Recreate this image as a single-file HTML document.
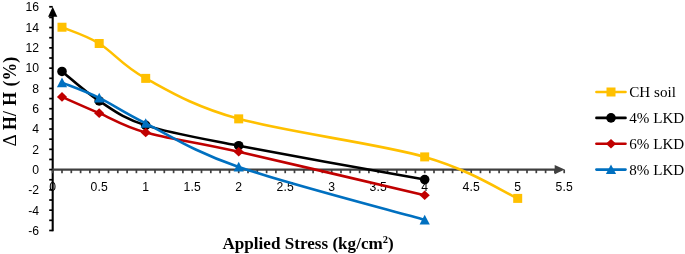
<!DOCTYPE html>
<html><head><meta charset="utf-8"><title>chart</title>
<style>
html,body{margin:0;padding:0;background:#fff;}
body{width:685px;height:254px;position:relative;overflow:hidden;}
.t{font-family:"Liberation Sans","DejaVu Sans",sans-serif;font-size:12.2px;letter-spacing:0.1px;fill:#000;}
.b{font-family:"Liberation Serif",serif;font-size:17.1px;font-weight:bold;fill:#000;}
.l{font-family:"Liberation Serif",serif;font-size:15.1px;fill:#000;}
</style></head><body>
<svg width="685" height="254" viewBox="0 0 685 254" style="position:absolute;left:0;top:0">
<rect width="685" height="254" fill="#fff"/>
<line x1="52.7" y1="15.280000000000001" x2="52.7" y2="231.27" stroke="#000" stroke-width="2.1"/>
<polygon points="52.7,6.68 57.30,16.68 48.10,16.68" fill="#000"/>
<line x1="51.800000000000004" y1="169.6" x2="556.2" y2="169.6" stroke="#404040" stroke-width="2.1"/>
<polygon points="564.7,169.6 554.7,164.9 554.7,174.29999999999998" fill="#404040"/>
<line x1="49.2" y1="230.47" x2="52.7" y2="230.47" stroke="#000" stroke-width="1.7"/>
<line x1="49.2" y1="220.32" x2="52.7" y2="220.32" stroke="#000" stroke-width="1.7"/>
<line x1="49.2" y1="210.18" x2="52.7" y2="210.18" stroke="#000" stroke-width="1.7"/>
<line x1="49.2" y1="200.03" x2="52.7" y2="200.03" stroke="#000" stroke-width="1.7"/>
<line x1="49.2" y1="189.89" x2="52.7" y2="189.89" stroke="#000" stroke-width="1.7"/>
<line x1="49.2" y1="179.75" x2="52.7" y2="179.75" stroke="#000" stroke-width="1.7"/>
<line x1="49.2" y1="169.60" x2="52.7" y2="169.60" stroke="#000" stroke-width="1.7"/>
<line x1="49.2" y1="159.45" x2="52.7" y2="159.45" stroke="#000" stroke-width="1.7"/>
<line x1="49.2" y1="149.31" x2="52.7" y2="149.31" stroke="#000" stroke-width="1.7"/>
<line x1="49.2" y1="139.16" x2="52.7" y2="139.16" stroke="#000" stroke-width="1.7"/>
<line x1="49.2" y1="129.02" x2="52.7" y2="129.02" stroke="#000" stroke-width="1.7"/>
<line x1="49.2" y1="118.88" x2="52.7" y2="118.88" stroke="#000" stroke-width="1.7"/>
<line x1="49.2" y1="108.73" x2="52.7" y2="108.73" stroke="#000" stroke-width="1.7"/>
<line x1="49.2" y1="98.58" x2="52.7" y2="98.58" stroke="#000" stroke-width="1.7"/>
<line x1="49.2" y1="88.44" x2="52.7" y2="88.44" stroke="#000" stroke-width="1.7"/>
<line x1="49.2" y1="78.30" x2="52.7" y2="78.30" stroke="#000" stroke-width="1.7"/>
<line x1="49.2" y1="68.15" x2="52.7" y2="68.15" stroke="#000" stroke-width="1.7"/>
<line x1="49.2" y1="58.00" x2="52.7" y2="58.00" stroke="#000" stroke-width="1.7"/>
<line x1="49.2" y1="47.86" x2="52.7" y2="47.86" stroke="#000" stroke-width="1.7"/>
<line x1="49.2" y1="37.72" x2="52.7" y2="37.72" stroke="#000" stroke-width="1.7"/>
<line x1="49.2" y1="27.57" x2="52.7" y2="27.57" stroke="#000" stroke-width="1.7"/>
<line x1="49.2" y1="17.43" x2="52.7" y2="17.43" stroke="#000" stroke-width="1.7"/>
<line x1="49.2" y1="6.78" x2="52.7" y2="6.78" stroke="#000" stroke-width="1.7"/>
<line x1="52.70" y1="169.6" x2="52.70" y2="173.2" stroke="#404040" stroke-width="1.7"/>
<line x1="62.00" y1="169.6" x2="62.00" y2="173.2" stroke="#404040" stroke-width="1.7"/>
<line x1="71.30" y1="169.6" x2="71.30" y2="173.2" stroke="#404040" stroke-width="1.7"/>
<line x1="80.60" y1="169.6" x2="80.60" y2="173.2" stroke="#404040" stroke-width="1.7"/>
<line x1="89.90" y1="169.6" x2="89.90" y2="173.2" stroke="#404040" stroke-width="1.7"/>
<line x1="99.20" y1="169.6" x2="99.20" y2="173.2" stroke="#404040" stroke-width="1.7"/>
<line x1="108.50" y1="169.6" x2="108.50" y2="173.2" stroke="#404040" stroke-width="1.7"/>
<line x1="117.80" y1="169.6" x2="117.80" y2="173.2" stroke="#404040" stroke-width="1.7"/>
<line x1="127.10" y1="169.6" x2="127.10" y2="173.2" stroke="#404040" stroke-width="1.7"/>
<line x1="136.40" y1="169.6" x2="136.40" y2="173.2" stroke="#404040" stroke-width="1.7"/>
<line x1="145.70" y1="169.6" x2="145.70" y2="173.2" stroke="#404040" stroke-width="1.7"/>
<line x1="155.00" y1="169.6" x2="155.00" y2="173.2" stroke="#404040" stroke-width="1.7"/>
<line x1="164.30" y1="169.6" x2="164.30" y2="173.2" stroke="#404040" stroke-width="1.7"/>
<line x1="173.60" y1="169.6" x2="173.60" y2="173.2" stroke="#404040" stroke-width="1.7"/>
<line x1="182.90" y1="169.6" x2="182.90" y2="173.2" stroke="#404040" stroke-width="1.7"/>
<line x1="192.20" y1="169.6" x2="192.20" y2="173.2" stroke="#404040" stroke-width="1.7"/>
<line x1="201.50" y1="169.6" x2="201.50" y2="173.2" stroke="#404040" stroke-width="1.7"/>
<line x1="210.80" y1="169.6" x2="210.80" y2="173.2" stroke="#404040" stroke-width="1.7"/>
<line x1="220.10" y1="169.6" x2="220.10" y2="173.2" stroke="#404040" stroke-width="1.7"/>
<line x1="229.40" y1="169.6" x2="229.40" y2="173.2" stroke="#404040" stroke-width="1.7"/>
<line x1="238.70" y1="169.6" x2="238.70" y2="173.2" stroke="#404040" stroke-width="1.7"/>
<line x1="248.00" y1="169.6" x2="248.00" y2="173.2" stroke="#404040" stroke-width="1.7"/>
<line x1="257.30" y1="169.6" x2="257.30" y2="173.2" stroke="#404040" stroke-width="1.7"/>
<line x1="266.60" y1="169.6" x2="266.60" y2="173.2" stroke="#404040" stroke-width="1.7"/>
<line x1="275.90" y1="169.6" x2="275.90" y2="173.2" stroke="#404040" stroke-width="1.7"/>
<line x1="285.20" y1="169.6" x2="285.20" y2="173.2" stroke="#404040" stroke-width="1.7"/>
<line x1="294.50" y1="169.6" x2="294.50" y2="173.2" stroke="#404040" stroke-width="1.7"/>
<line x1="303.80" y1="169.6" x2="303.80" y2="173.2" stroke="#404040" stroke-width="1.7"/>
<line x1="313.10" y1="169.6" x2="313.10" y2="173.2" stroke="#404040" stroke-width="1.7"/>
<line x1="322.40" y1="169.6" x2="322.40" y2="173.2" stroke="#404040" stroke-width="1.7"/>
<line x1="331.70" y1="169.6" x2="331.70" y2="173.2" stroke="#404040" stroke-width="1.7"/>
<line x1="341.00" y1="169.6" x2="341.00" y2="173.2" stroke="#404040" stroke-width="1.7"/>
<line x1="350.30" y1="169.6" x2="350.30" y2="173.2" stroke="#404040" stroke-width="1.7"/>
<line x1="359.60" y1="169.6" x2="359.60" y2="173.2" stroke="#404040" stroke-width="1.7"/>
<line x1="368.90" y1="169.6" x2="368.90" y2="173.2" stroke="#404040" stroke-width="1.7"/>
<line x1="378.20" y1="169.6" x2="378.20" y2="173.2" stroke="#404040" stroke-width="1.7"/>
<line x1="387.50" y1="169.6" x2="387.50" y2="173.2" stroke="#404040" stroke-width="1.7"/>
<line x1="396.80" y1="169.6" x2="396.80" y2="173.2" stroke="#404040" stroke-width="1.7"/>
<line x1="406.10" y1="169.6" x2="406.10" y2="173.2" stroke="#404040" stroke-width="1.7"/>
<line x1="415.40" y1="169.6" x2="415.40" y2="173.2" stroke="#404040" stroke-width="1.7"/>
<line x1="424.70" y1="169.6" x2="424.70" y2="173.2" stroke="#404040" stroke-width="1.7"/>
<line x1="434.00" y1="169.6" x2="434.00" y2="173.2" stroke="#404040" stroke-width="1.7"/>
<line x1="443.30" y1="169.6" x2="443.30" y2="173.2" stroke="#404040" stroke-width="1.7"/>
<line x1="452.60" y1="169.6" x2="452.60" y2="173.2" stroke="#404040" stroke-width="1.7"/>
<line x1="461.90" y1="169.6" x2="461.90" y2="173.2" stroke="#404040" stroke-width="1.7"/>
<line x1="471.20" y1="169.6" x2="471.20" y2="173.2" stroke="#404040" stroke-width="1.7"/>
<line x1="480.50" y1="169.6" x2="480.50" y2="173.2" stroke="#404040" stroke-width="1.7"/>
<line x1="489.80" y1="169.6" x2="489.80" y2="173.2" stroke="#404040" stroke-width="1.7"/>
<line x1="499.10" y1="169.6" x2="499.10" y2="173.2" stroke="#404040" stroke-width="1.7"/>
<line x1="508.40" y1="169.6" x2="508.40" y2="173.2" stroke="#404040" stroke-width="1.7"/>
<line x1="517.70" y1="169.6" x2="517.70" y2="173.2" stroke="#404040" stroke-width="1.7"/>
<line x1="527.00" y1="169.6" x2="527.00" y2="173.2" stroke="#404040" stroke-width="1.7"/>
<line x1="536.30" y1="169.6" x2="536.30" y2="173.2" stroke="#404040" stroke-width="1.7"/>
<line x1="545.60" y1="169.6" x2="545.60" y2="173.2" stroke="#404040" stroke-width="1.7"/>
<line x1="554.90" y1="169.6" x2="554.90" y2="173.2" stroke="#404040" stroke-width="1.7"/>
<line x1="564.20" y1="169.6" x2="564.20" y2="173.2" stroke="#404040" stroke-width="1.7"/>
<text x="39.2" y="235.02" text-anchor="end" class="t">-6</text>
<text x="39.2" y="214.68" text-anchor="end" class="t">-4</text>
<text x="39.2" y="194.34" text-anchor="end" class="t">-2</text>
<text x="39.2" y="174.00" text-anchor="end" class="t">0</text>
<text x="39.2" y="153.66" text-anchor="end" class="t">2</text>
<text x="39.2" y="133.32" text-anchor="end" class="t">4</text>
<text x="39.2" y="112.98" text-anchor="end" class="t">6</text>
<text x="39.2" y="92.64" text-anchor="end" class="t">8</text>
<text x="39.2" y="72.30" text-anchor="end" class="t">10</text>
<text x="39.2" y="51.96" text-anchor="end" class="t">12</text>
<text x="39.2" y="31.62" text-anchor="end" class="t">14</text>
<text x="39.2" y="11.28" text-anchor="end" class="t">16</text>
<text x="52.70" y="191.20" text-anchor="middle" class="t">0</text>
<text x="99.20" y="191.20" text-anchor="middle" class="t">0.5</text>
<text x="145.70" y="191.20" text-anchor="middle" class="t">1</text>
<text x="192.20" y="191.20" text-anchor="middle" class="t">1.5</text>
<text x="238.70" y="191.20" text-anchor="middle" class="t">2</text>
<text x="285.20" y="191.20" text-anchor="middle" class="t">2.5</text>
<text x="331.70" y="191.20" text-anchor="middle" class="t">3</text>
<text x="378.20" y="191.20" text-anchor="middle" class="t">3.5</text>
<text x="424.70" y="191.20" text-anchor="middle" class="t">4</text>
<text x="471.20" y="191.20" text-anchor="middle" class="t">4.5</text>
<text x="517.70" y="191.20" text-anchor="middle" class="t">5</text>
<text x="564.20" y="191.20" text-anchor="middle" class="t">5.5</text>
<path d="M62.00,27.23 C68.20,29.94 85.25,34.97 99.20,43.50 C113.15,52.03 122.45,65.82 145.70,78.38 C168.95,90.94 192.20,105.77 238.70,118.86 C285.20,131.95 378.20,143.64 424.70,156.90 C471.20,170.15 502.20,191.47 517.70,198.39" fill="none" stroke="#FFC000" stroke-width="2.6" stroke-linecap="round" stroke-linejoin="round"/>
<rect x="57.50" y="22.73" width="9" height="9" fill="#FFC000"/>
<rect x="94.70" y="39.00" width="9" height="9" fill="#FFC000"/>
<rect x="141.20" y="73.88" width="9" height="9" fill="#FFC000"/>
<rect x="234.20" y="114.36" width="9" height="9" fill="#FFC000"/>
<rect x="420.20" y="152.40" width="9" height="9" fill="#FFC000"/>
<rect x="513.20" y="193.89" width="9" height="9" fill="#FFC000"/>
<path d="M62.00,71.47 C68.20,76.38 85.25,91.98 99.20,100.96 C113.15,109.94 122.45,117.91 145.70,125.37 C168.95,132.83 192.20,136.67 238.70,145.71 C285.20,154.74 393.70,173.93 424.70,179.58" fill="none" stroke="#000000" stroke-width="2.6" stroke-linecap="round" stroke-linejoin="round"/>
<circle cx="62.00" cy="71.47" r="4.8" fill="#000000"/>
<circle cx="99.20" cy="100.96" r="4.8" fill="#000000"/>
<circle cx="145.70" cy="125.37" r="4.8" fill="#000000"/>
<circle cx="238.70" cy="145.71" r="4.8" fill="#000000"/>
<circle cx="424.70" cy="179.58" r="4.8" fill="#000000"/>
<path d="M62.00,96.89 C68.20,99.61 85.25,107.23 99.20,113.16 C113.15,119.10 122.45,126.05 145.70,132.49 C168.95,138.93 192.20,141.35 238.70,151.81 C285.20,162.27 393.70,188.00 424.70,195.24" fill="none" stroke="#C00000" stroke-width="2.6" stroke-linecap="round" stroke-linejoin="round"/>
<polygon points="62.00,92.09 67.10,96.89 62.00,101.69 56.90,96.89" fill="#C00000"/>
<polygon points="99.20,108.36 104.30,113.16 99.20,117.96 94.10,113.16" fill="#C00000"/>
<polygon points="145.70,127.69 150.80,132.49 145.70,137.29 140.60,132.49" fill="#C00000"/>
<polygon points="238.70,147.01 243.80,151.81 238.70,156.61 233.60,151.81" fill="#C00000"/>
<polygon points="424.70,190.44 429.80,195.24 424.70,200.04 419.60,195.24" fill="#C00000"/>
<path d="M62.00,82.66 C68.20,85.20 85.25,91.13 99.20,97.91 C113.15,104.69 122.45,111.81 145.70,123.33 C168.95,134.86 192.20,150.96 238.70,167.07 C285.20,183.17 393.70,211.14 424.70,219.95" fill="none" stroke="#0070C0" stroke-width="2.6" stroke-linecap="round" stroke-linejoin="round"/>
<polygon points="62.00,77.45 67.10,87.16 56.90,87.16" fill="#0070C0"/>
<polygon points="99.20,92.71 104.30,102.41 94.10,102.41" fill="#0070C0"/>
<polygon points="145.70,118.13 150.80,127.83 140.60,127.83" fill="#0070C0"/>
<polygon points="238.70,161.87 243.80,171.57 233.60,171.57" fill="#0070C0"/>
<polygon points="424.70,214.75 429.80,224.45 419.60,224.45" fill="#0070C0"/>
<text x="308.1" y="248.5" text-anchor="middle" class="b">Applied Stress (kg/cm<tspan font-size="10.5" dy="-6">2</tspan><tspan dy="6">)</tspan></text>
<text transform="translate(15.700000000000001,146.6) rotate(-90) scale(1.07,1.05)" class="b" style="font-weight:normal;font-size:17.8px">Δ</text>
<text transform="translate(15.9,129.9) rotate(-90)" class="b" style="font-size:17.8px;word-spacing:1px">H/ H</text>
<text transform="translate(15.9,86.4) rotate(-90)" class="b" style="font-size:17.8px">(%)</text>
<line x1="596.4" y1="92.0" x2="625.5" y2="92.0" stroke="#FFC000" stroke-width="2.6" stroke-linecap="round"/>
<rect x="606.50" y="87.50" width="9" height="9" fill="#FFC000"/>
<text x="629.3" y="96.9" class="l">CH soil</text>
<line x1="596.4" y1="117.9" x2="625.5" y2="117.9" stroke="#000000" stroke-width="2.6" stroke-linecap="round"/>
<circle cx="611.00" cy="117.90" r="4.8" fill="#000000"/>
<text x="629.3" y="122.80000000000001" class="l">4% LKD</text>
<line x1="596.4" y1="143.8" x2="625.5" y2="143.8" stroke="#C00000" stroke-width="2.6" stroke-linecap="round"/>
<polygon points="611.00,139.00 616.10,143.80 611.00,148.60 605.90,143.80" fill="#C00000"/>
<text x="629.3" y="148.70000000000002" class="l">6% LKD</text>
<line x1="596.4" y1="169.6" x2="625.5" y2="169.6" stroke="#0070C0" stroke-width="2.6" stroke-linecap="round"/>
<polygon points="611.00,164.40 616.10,174.10 605.90,174.10" fill="#0070C0"/>
<text x="629.3" y="174.5" class="l">8% LKD</text>
</svg>
</body></html>
